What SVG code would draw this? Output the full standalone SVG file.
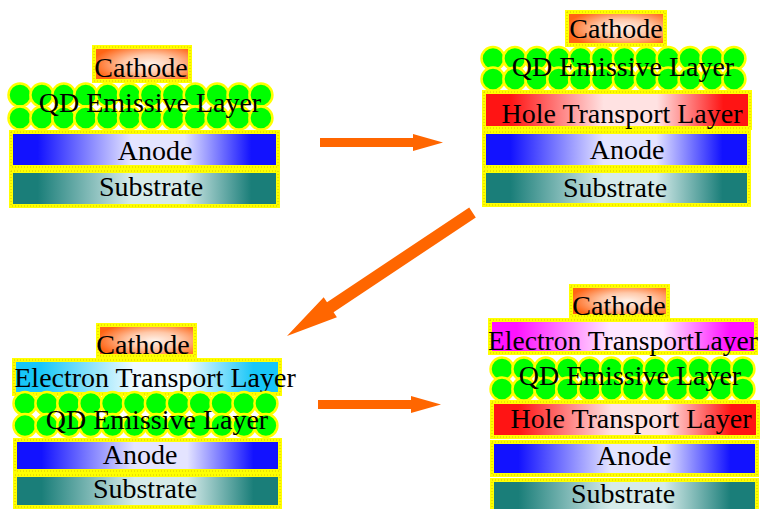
<svg xmlns="http://www.w3.org/2000/svg" xmlns:xlink="http://www.w3.org/1999/xlink" width="765" height="509" viewBox="0 0 765 509">
  <style>
    .frame { stroke: #ffff00; stroke-width: 4; }
    .dots { fill: none; stroke: #d6c400; stroke-width: 1; stroke-dasharray: 1 2; }
    .dot { fill: #00ff00; stroke: #ffff00; stroke-width: 2.5; }
    .lbl { font-family: "Liberation Serif", "Times New Roman", serif; font-size: 28px; fill: #000; text-anchor: middle; }
    .arrow { fill: #ff6600; }
  </style>
  <defs>
    <radialGradient id="gCathode" cx="0.58" cy="0.5" r="0.6">
      <stop offset="0" stop-color="#fff2ea"/>
      <stop offset="0.45" stop-color="#ffc8a8"/>
      <stop offset="1" stop-color="#ff6414"/>
    </radialGradient>
    <linearGradient id="gAnode" x1="0" y1="0" x2="1" y2="0">
      <stop offset="0" stop-color="#1212ff"/>
      <stop offset="0.1" stop-color="#1212ff"/>
      <stop offset="0.45" stop-color="#e4e4ff"/>
      <stop offset="0.65" stop-color="#e4e4ff"/>
      <stop offset="0.9" stop-color="#1212ff"/>
      <stop offset="1" stop-color="#1212ff"/>
    </linearGradient>
    <linearGradient id="gSubstrate" x1="0" y1="0" x2="1" y2="0">
      <stop offset="0" stop-color="#1a7e79"/>
      <stop offset="0.1" stop-color="#1a7e79"/>
      <stop offset="0.45" stop-color="#d6ebea"/>
      <stop offset="0.65" stop-color="#d6ebea"/>
      <stop offset="0.9" stop-color="#1a7e79"/>
      <stop offset="1" stop-color="#1a7e79"/>
    </linearGradient>
    <linearGradient id="gHole" x1="0" y1="0" x2="1" y2="0">
      <stop offset="0" stop-color="#ff1414"/>
      <stop offset="0.1" stop-color="#ff1414"/>
      <stop offset="0.45" stop-color="#ffe2e2"/>
      <stop offset="0.65" stop-color="#ffe2e2"/>
      <stop offset="0.9" stop-color="#ff1414"/>
      <stop offset="1" stop-color="#ff1414"/>
    </linearGradient>
    <linearGradient id="gElecBlue" x1="0" y1="0" x2="1" y2="0">
      <stop offset="0" stop-color="#18c6f8"/>
      <stop offset="0.1" stop-color="#18c6f8"/>
      <stop offset="0.45" stop-color="#f0fbff"/>
      <stop offset="0.65" stop-color="#f0fbff"/>
      <stop offset="0.9" stop-color="#18c6f8"/>
      <stop offset="1" stop-color="#18c6f8"/>
    </linearGradient>
    <linearGradient id="gElecPink" x1="0" y1="0" x2="1" y2="0">
      <stop offset="0" stop-color="#ff12ff"/>
      <stop offset="0.1" stop-color="#ff12ff"/>
      <stop offset="0.45" stop-color="#ffe6ff"/>
      <stop offset="0.65" stop-color="#ffe6ff"/>
      <stop offset="0.9" stop-color="#ff12ff"/>
      <stop offset="1" stop-color="#ff12ff"/>
    </linearGradient>
    <!-- one row of twelve quantum dots -->
    <g id="qdRow">
      <circle class="dot" cx="0" cy="0" r="11.5"/>
      <circle class="dot" cx="21.9" cy="0" r="11.5"/>
      <circle class="dot" cx="43.8" cy="0" r="11.5"/>
      <circle class="dot" cx="65.7" cy="0" r="11.5"/>
      <circle class="dot" cx="87.6" cy="0" r="11.5"/>
      <circle class="dot" cx="109.5" cy="0" r="11.5"/>
      <circle class="dot" cx="131.4" cy="0" r="11.5"/>
      <circle class="dot" cx="153.3" cy="0" r="11.5"/>
      <circle class="dot" cx="175.2" cy="0" r="11.5"/>
      <circle class="dot" cx="197.1" cy="0" r="11.5"/>
      <circle class="dot" cx="219" cy="0" r="11.5"/>
      <circle class="dot" cx="240.9" cy="0" r="11.5"/>
    </g>
  </defs>

  <rect width="765" height="509" fill="#ffffff"/>

  <!-- Device 1: substrate / anode / QD / cathode -->
  <g id="device-1">
    <rect class="frame" fill="url(#gCathode)" x="94" y="47" width="96" height="34"/>
    <rect class="dots" x="94" y="47" width="96" height="34"/>
    <text class="lbl" x="141" y="77">Cathode</text>
    <use xlink:href="#qdRow" x="20" y="95"/>
    <use xlink:href="#qdRow" x="20" y="118"/>
    <text class="lbl" x="150" y="112">QD Emissive Layer</text>
    <rect class="frame" fill="url(#gAnode)" x="11" y="132" width="267" height="35"/>
    <rect class="dots" x="11" y="132" width="267" height="35"/>
    <text class="lbl" x="155" y="160">Anode</text>
    <rect class="frame" fill="url(#gSubstrate)" x="11" y="171" width="267" height="35"/>
    <rect class="dots" x="11" y="171" width="267" height="35"/>
    <text class="lbl" x="151" y="196">Substrate</text>
  </g>

  <!-- Device 2: adds a hole transport layer -->
  <g id="device-2">
    <rect class="frame" fill="url(#gCathode)" x="567" y="12" width="98" height="33"/>
    <rect class="dots" x="567" y="12" width="98" height="33"/>
    <text class="lbl" x="616" y="38">Cathode</text>
    <use xlink:href="#qdRow" x="493" y="58.5"/>
    <use xlink:href="#qdRow" x="493" y="79"/>
    <text class="lbl" x="623" y="76">QD Emissive Layer</text>
    <rect class="frame" fill="url(#gHole)" x="484" y="92" width="266" height="36"/>
    <rect class="dots" x="484" y="92" width="266" height="36"/>
    <text class="lbl" x="622" y="123">Hole Transport Layer</text>
    <rect class="frame" fill="url(#gAnode)" x="484" y="132" width="265" height="35"/>
    <rect class="dots" x="484" y="132" width="265" height="35"/>
    <text class="lbl" x="627" y="159">Anode</text>
    <rect class="frame" fill="url(#gSubstrate)" x="484" y="171" width="265" height="34"/>
    <rect class="dots" x="484" y="171" width="265" height="34"/>
    <text class="lbl" x="615" y="197">Substrate</text>
  </g>

  <!-- Device 3: adds an electron transport layer -->
  <g id="device-3">
    <rect class="frame" fill="url(#gCathode)" x="98" y="325" width="97" height="31"/>
    <rect class="dots" x="98" y="325" width="97" height="31"/>
    <text class="lbl" x="143" y="354">Cathode</text>
    <rect class="frame" fill="url(#gElecBlue)" x="14" y="360" width="266" height="34"/>
    <rect class="dots" x="14" y="360" width="266" height="34"/>
    <text class="lbl" x="155" y="387">Electron Transport Layer</text>
    <use xlink:href="#qdRow" x="25" y="403.5"/>
    <use xlink:href="#qdRow" x="25" y="425.5"/>
    <text class="lbl" x="157" y="429">QD Emissive Layer</text>
    <rect class="frame" fill="url(#gAnode)" x="15" y="440" width="265" height="31"/>
    <rect class="dots" x="15" y="440" width="265" height="31"/>
    <text class="lbl" x="140" y="464">Anode</text>
    <rect class="frame" fill="url(#gSubstrate)" x="15" y="475" width="265" height="32"/>
    <rect class="dots" x="15" y="475" width="265" height="32"/>
    <text class="lbl" x="145" y="498">Substrate</text>
  </g>

  <!-- Device 4: both transport layers -->
  <g id="device-4">
    <rect class="frame" fill="url(#gCathode)" x="571" y="286" width="97" height="30"/>
    <rect class="dots" x="571" y="286" width="97" height="30"/>
    <text class="lbl" x="619" y="315">Cathode</text>
    <rect class="frame" fill="url(#gElecPink)" x="490" y="320" width="266" height="33"/>
    <rect class="dots" x="490" y="320" width="266" height="33"/>
    <text class="lbl" x="623" y="350" textLength="270" lengthAdjust="spacingAndGlyphs">Electron TransportLayer</text>
    <use xlink:href="#qdRow" x="502" y="369"/>
    <use xlink:href="#qdRow" x="502" y="389"/>
    <text class="lbl" x="630" y="385">QD Emissive Layer</text>
    <rect class="frame" fill="url(#gHole)" x="492" y="402" width="266" height="35"/>
    <rect class="dots" x="492" y="402" width="266" height="35"/>
    <text class="lbl" x="631" y="428">Hole Transport Layer</text>
    <rect class="frame" fill="url(#gAnode)" x="492" y="442" width="265" height="33"/>
    <rect class="dots" x="492" y="442" width="265" height="33"/>
    <text class="lbl" x="634" y="465">Anode</text>
    <rect class="frame" fill="url(#gSubstrate)" x="492" y="480" width="265" height="35"/>
    <rect class="dots" x="492" y="480" width="265" height="35"/>
    <text class="lbl" x="623" y="503">Substrate</text>
  </g>

  <!-- Process arrows -->
  <g id="connectors">
    <polygon class="arrow" points="320,138 413,138 413,134 443,142.5 413,151 413,147 320,147"/>
    <polygon class="arrow" points="469.2,207.5 475.8,217.5 333.6,312.2 336.9,317.2 287,336 323.7,297.2 327,302.2"/>
    <polygon class="arrow" points="318,400 411,400 411,396 441,404.5 411,413 411,409 318,409"/>
  </g>
</svg>
